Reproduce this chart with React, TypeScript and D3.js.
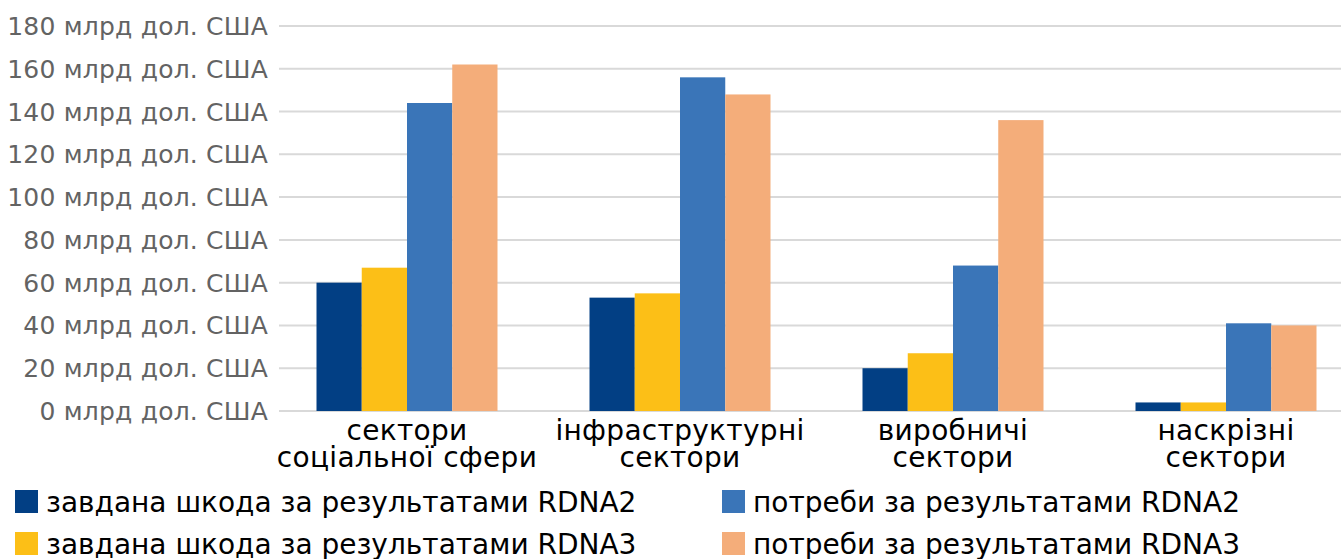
import React, { useEffect, useRef } from "react";
import * as d3 from "d3";

const categories = [
  ["сектори", "соціальної сфери"],
  ["інфраструктурні", "сектори"],
  ["виробничі", "сектори"],
  ["наскрізні", "сектори"],
];
const seriesNames = [
  "завдана шкода за результатами RDNA2",
  "завдана шкода за результатами RDNA3",
  "потреби за результатами RDNA2",
  "потреби за результатами RDNA3",
];
const damageRdna2 = [60, 53, 20, 4];
const damageRdna3 = [67, 55, 27, 4];
const needsRdna2 = [144, 156, 68, 41];
const needsRdna3 = [162, 148, 136, 40];
const yTicks = [0, 20, 40, 60, 80, 100, 120, 140, 160, 180];
const colors = ["#023f84", "#fcbf17", "#3a75b8", "#f4ad7a"];

const W = 1341;
const H = 559;
const FONT = "'DejaVu Sans', Arial, sans-serif";

export default function App() {
  const ref = useRef<SVGSVGElement>(null);

  useEffect(() => {
    const svg = d3.select(ref.current);
    svg.selectAll("*").remove();

    const series = [damageRdna2, damageRdna3, needsRdna2, needsRdna3];
    const keys = categories.map((c) => c.join(" "));

    const x = d3.scaleBand().domain(keys).range([270.5, 1362.5]).paddingInner(0.337).paddingOuter(0.1685);
    const xi = d3.scaleBand().domain(d3.range(4).map(String)).range([0, x.bandwidth()]);
    const y = d3.scaleLinear().domain([0, 180]).range([411, 26]);

    // gridlines
    svg
      .append("g")
      .selectAll("line")
      .data(yTicks)
      .join("line")
      .attr("x1", 279)
      .attr("x2", W)
      .attr("y1", (d) => y(d))
      .attr("y2", (d) => y(d))
      .attr("stroke", "#d9d9d9")
      .attr("stroke-width", 2);

    // y labels
    svg
      .append("g")
      .selectAll("text")
      .data(yTicks)
      .join("text")
      .attr("x", 268)
      .attr("y", (d) => y(d))
      .attr("dy", "0.36em")
      .attr("text-anchor", "end")
      .attr("font-family", FONT)
      .attr("font-size", 25)
      .attr("letter-spacing", 0.2)
      .attr("fill", "#636363")
      .text((d) => `${d} млрд дол. США`);

    // bars
    const groups = svg
      .append("g")
      .selectAll("g")
      .data(series)
      .join("g")
      .attr("fill", (_, i) => colors[i]);
    groups.each(function (vals, si) {
      d3.select(this)
        .selectAll("rect")
        .data(vals)
        .join("rect")
        .attr("x", (_, ci) => (x(keys[ci]) as number) + (xi(String(si)) as number))
        .attr("width", xi.bandwidth())
        .attr("y", (d) => y(d))
        .attr("height", (d) => y(0) - y(d));
    });

    // category labels
    const cat = svg
      .append("g")
      .selectAll("text")
      .data(categories)
      .join("text")
      .attr("text-anchor", "middle")
      .attr("font-family", FONT)
      .attr("font-size", 28)
      .attr("letter-spacing", 0.3)
      .attr("fill", "#000");
    cat
      .selectAll("tspan")
      .data((d, i) => d.map((line) => ({ line, i })))
      .join("tspan")
      .attr("x", (d) => (x(keys[d.i]) as number) + x.bandwidth() / 2)
      .attr("y", (_, j) => 440 + j * 27)
      .text((d) => d.line);

    // legend
    const legendPos = [
      [15, 490],
      [15, 532],
      [722, 490],
      [722, 532],
    ];
    const leg = svg
      .append("g")
      .selectAll("g")
      .data(seriesNames)
      .join("g")
      .attr("transform", (_, i) => `translate(${legendPos[i][0]},${legendPos[i][1]})`);
    leg
      .append("rect")
      .attr("x", 0)
      .attr("y", 0)
      .attr("width", 23)
      .attr("height", 23)
      .attr("fill", (_, i) => colors[i]);
    leg
      .append("text")
      .attr("x", 31)
      .attr("y", 22)
      .attr("font-family", FONT)
      .attr("font-size", 28)
      .attr("fill", "#000")
      .text((d) => d);
  }, []);

  return (
    <svg
      ref={ref}
      width={W}
      height={H}
      style={{ position: "absolute", left: 0, top: 0, background: "#fff" }}
    />
  );
}
